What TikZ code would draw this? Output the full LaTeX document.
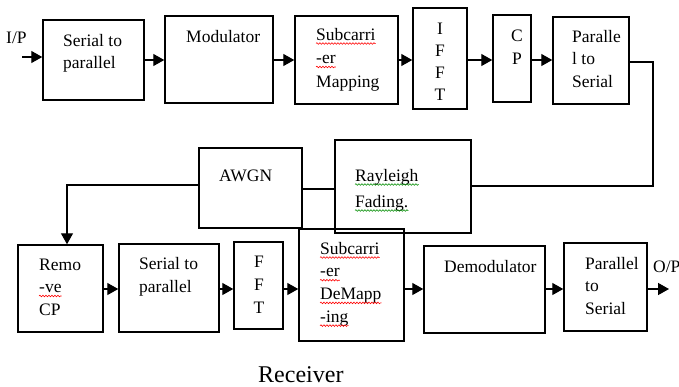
\documentclass[tikz,border=0pt]{standalone}
\usepackage{fontspec}
\setmainfont{Liberation Serif}
\usetikzlibrary{arrows.meta,calc,decorations.pathmorphing}
\begin{document}
\begin{tikzpicture}[x=1pt,y=-1pt,
  box/.style={draw, line width=1.5pt, inner sep=0pt},
  txt/.style={anchor=base west, inner sep=0pt, align=left, font=\fontsize{17.5}{22}\selectfont},
  ctxt/.style={anchor=base, inner sep=0pt, align=center},
  arr/.style={line width=1.4pt, -{Triangle[length=11pt,width=12pt]}},
  ln/.style={line width=1.4pt},
  rw/.style={red, line width=0.6pt, decorate, decoration={snake, segment length=3pt, amplitude=0.8pt}},
  gw/.style={green!55!black, line width=0.6pt, decorate, decoration={snake, segment length=3pt, amplitude=0.8pt}}]
\useasboundingbox (0,0) rectangle (679,386);
% boxes top row
\node[box, minimum width=101pt, minimum height=80pt] (s2p) at (93.5,60) {};
\node[box, minimum width=108pt, minimum height=87pt] (mod) at (219,59.5) {};
\node[box, minimum width=103pt, minimum height=88pt] (map) at (346.5,60) {};
\node[box, minimum width=54pt, minimum height=101pt] (ifft) at (440,58.5) {};
\node[box, minimum width=38pt, minimum height=87pt] (cp) at (512,58.5) {};
\node[box, minimum width=76pt, minimum height=87pt] (p2s) at (591,60.5) {};
% middle
\node[box, minimum width=103pt, minimum height=80pt] (awgn) at (250.5,188) {};
\node[box, minimum width=136pt, minimum height=93pt] (ray) at (403,186.5) {};
% bottom row
\node[box, minimum width=85pt, minimum height=87pt] (rcp) at (60.5,288.5) {};
\node[box, minimum width=100pt, minimum height=88pt] (s2pb) at (169,288) {};
\node[box, minimum width=49pt, minimum height=87pt] (fft) at (258.5,285.5) {};
\node[box, minimum width=105pt, minimum height=112pt] (demap) at (351.5,285) {};
\node[box, minimum width=121pt, minimum height=87pt] (demod) at (484.5,289.5) {};
\node[box, minimum width=83pt, minimum height=88pt] (p2sb) at (605.5,287) {};
% texts (multi-line nodes are placed by the baseline of their last line)
\node[txt] (ip) at (6,43) {I/P};
\node[txt] (t1) at (63,68) {Serial to\\parallel};
\node[txt] (t2) at (186,42) {Modulator};
\node[txt] (t3a) at (316,40) {Subcarri};
\node[txt] (t3b) at (316,63.5) {-er};
\node[txt] (t3c) at (316,87) {Mapping};
\node[ctxt, font=\fontsize{17.5}{22}\selectfont] (t4) at (440,100) {I\\F\\F\\T};
\node[ctxt, font=\fontsize{17.5}{23}\selectfont] (t5) at (517,64) {C\\P};
\node[txt, font=\fontsize{17.5}{22.5}\selectfont] (t6) at (572,87) {Paralle\\l to\\Serial};
\node[txt] (t7) at (219,181) {AWGN};
\node[txt] (t8a) at (355,181) {Rayleigh};
\node[txt] (t8b) at (355,207) {Fading.};
\node[txt] (t9a) at (39,270) {Remo};
\node[txt] (t9b) at (39,292.5) {-ve};
\node[txt] (t9c) at (39,315) {CP};
\node[txt, font=\fontsize{17.5}{23}\selectfont] (t10) at (139,292) {Serial to\\parallel};
\node[ctxt, font=\fontsize{17.5}{23}\selectfont] (t11) at (259,313) {F\\F\\T};
\node[txt] (t12a) at (320,254) {Subcarri};
\node[txt] (t12b) at (320,276.7) {-er};
\node[txt] (t12c) at (320,299.4) {DeMapp};
\node[txt] (t12d) at (320,322.1) {-ing};
\node[txt] (t13) at (444,272) {Demodulator};
\node[txt, font=\fontsize{17.5}{22.5}\selectfont] (t14) at (585,314) {Parallel\\to\\Serial};
\node[txt] (op) at (653,272) {O/P};
\node[txt, font=\fontsize{24}{28}\selectfont] (rx) at (258,382) {Receiver};
% spelling underlines
\foreach \n in {t3a,t3b,t9b,t12a,t12b,t12c,t12d}
  \draw[rw] ($(\n.base west)+(0,3.5)$) -- ($(\n.base east)+(0,3.5)$);
\foreach \n in {t8a,t8b}
  \draw[gw] ($(\n.base west)+(0,3.5)$) -- ($(\n.base east)+(0,3.5)$);
% connectors
\coordinate (r1) at (0,60);
\coordinate (r2) at (0,289);
\coordinate (ipin) at (22,57);
\draw[arr] (ipin) -- (ipin -| s2p.west);
\draw[arr] (s2p.east |- r1) -- (mod.west |- r1);
\draw[arr] (mod.east |- r1) -- (map.west |- r1);
\draw[arr] (map.east |- r1) -- (ifft.west |- r1);
\draw[arr] (ifft.east |- r1) -- (cp.west |- r1);
\draw[arr] (cp.east |- r1) -- (p2s.west |- r1);
\coordinate (c1) at (653,186);
\draw[ln] (p2s.east |- 0,62) -| (c1) -- (c1 -| ray.east);
\draw[ln] (ray.west |- 0,189) -- (awgn.east |- 0,189);
\coordinate (c2) at (67,185);
\draw[arr] (awgn.west |- c2) -- (c2) -- (c2 |- rcp.north);
\draw[arr] (rcp.east |- r2) -- (s2pb.west |- r2);
\draw[arr] (s2pb.east |- r2) -- (fft.west |- r2);
\draw[arr] (fft.east |- r2) -- (demap.west |- r2);
\draw[arr] (demap.east |- r2) -- (demod.west |- r2);
\draw[arr] (demod.east |- r2) -- (p2sb.west |- r2);
\coordinate (opout) at (669,289);
\draw[arr] (p2sb.east |- r2) -- (opout);
\end{tikzpicture}
\end{document}
